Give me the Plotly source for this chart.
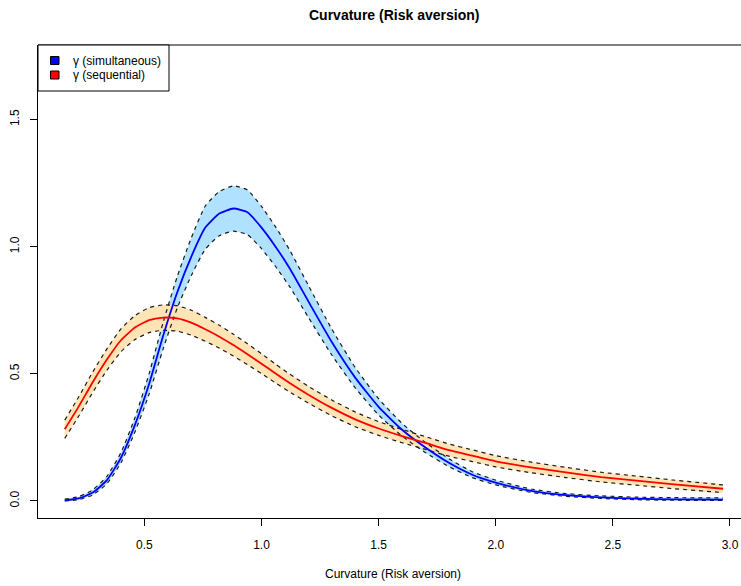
import plotly.graph_objects as go

# ---- data ----
x_grid = [0.16, 0.22, 0.28, 0.34, 0.40, 0.46, 0.52, 0.58, 0.64, 0.70, 0.76, 0.82,
          0.88, 0.94, 1.00, 1.06, 1.12, 1.20, 1.30, 1.40, 1.50, 1.60, 1.70, 1.80,
          1.90, 2.00, 2.15, 2.30, 2.45, 2.60, 2.75, 2.97]

sim_mean = [0.002, 0.010, 0.033, 0.082, 0.170, 0.300, 0.460, 0.650, 0.820, 0.960, 1.075, 1.130,
            1.150, 1.135, 1.075, 1.000, 0.915, 0.785, 0.625, 0.485, 0.370, 0.280, 0.210, 0.150,
            0.103, 0.072, 0.040, 0.023, 0.014, 0.009, 0.006, 0.005]
sim_lower = [0.000, 0.005, 0.024, 0.068, 0.150, 0.272, 0.420, 0.598, 0.758, 0.886, 0.990, 1.043,
             1.061, 1.047, 0.992, 0.922, 0.843, 0.722, 0.574, 0.445, 0.338, 0.255, 0.190, 0.135,
             0.092, 0.063, 0.034, 0.018, 0.010, 0.005, 0.003, 0.002]
sim_upper = [0.007, 0.017, 0.044, 0.097, 0.190, 0.328, 0.500, 0.702, 0.882, 1.034, 1.160, 1.217,
             1.239, 1.223, 1.158, 1.078, 0.987, 0.848, 0.676, 0.525, 0.402, 0.305, 0.230, 0.166,
             0.115, 0.082, 0.047, 0.029, 0.020, 0.015, 0.013, 0.012]

seq_mean = [0.282, 0.372, 0.468, 0.556, 0.632, 0.682, 0.711, 0.721, 0.718, 0.701, 0.675, 0.646,
            0.613, 0.577, 0.540, 0.501, 0.464, 0.418, 0.366, 0.321, 0.285, 0.255, 0.228, 0.200,
            0.178, 0.156, 0.132, 0.112, 0.094, 0.080, 0.066, 0.048]
seq_lower = [0.246, 0.334, 0.428, 0.514, 0.587, 0.635, 0.662, 0.671, 0.668, 0.652, 0.628, 0.601,
             0.570, 0.536, 0.501, 0.464, 0.429, 0.385, 0.335, 0.292, 0.258, 0.229, 0.203, 0.176,
             0.155, 0.134, 0.111, 0.092, 0.075, 0.062, 0.049, 0.033]
seq_upper = [0.318, 0.410, 0.508, 0.598, 0.677, 0.729, 0.760, 0.771, 0.768, 0.750, 0.722, 0.691,
             0.656, 0.618, 0.579, 0.538, 0.499, 0.451, 0.397, 0.350, 0.312, 0.281, 0.253, 0.224,
             0.201, 0.178, 0.153, 0.132, 0.113, 0.098, 0.083, 0.063]

x_ticks = [0.5, 1.0, 1.5, 2.0, 2.5, 3.0]
y_ticks = [0.0, 0.5, 1.0, 1.5]
legend_labels = ["γ (simultaneous)", "γ (sequential)"]
title_text = "Curvature (Risk aversion)"
xlabel_text = "Curvature (Risk aversion)"

# ---- styling ----
FONT = "Liberation Sans, Arial, Helvetica, sans-serif"
W, H = 741, 586
ML, MR, MT = 38, 0, 45
MB = H - 518
PW, PH = W - ML - MR, H - MT - MB


def px_to_paper(px, py):
    return (px - ML) / PW, (H - MB - py) / PH


fig = go.Figure()


def band(lower, upper, color):
    fig.add_trace(go.Scatter(
        x=x_grid + x_grid[::-1], y=upper + lower[::-1],
        fill="toself", fillcolor=color, mode="lines",
        line=dict(width=0, color=color, shape="spline", smoothing=0.5),
        hoverinfo="skip", showlegend=False))


def dashed(y):
    fig.add_trace(go.Scatter(
        x=x_grid, y=y, mode="lines",
        line=dict(color="#1a1a1a", width=1.2, dash="4px,4px", shape="spline", smoothing=0.5),
        hoverinfo="skip", showlegend=False))


def mean_line(y, color):
    fig.add_trace(go.Scatter(
        x=x_grid, y=y, mode="lines",
        line=dict(color=color, width=1.8, shape="spline", smoothing=0.5),
        showlegend=False))


band(sim_lower, sim_upper, "#B0E2FF")
band(seq_lower, seq_upper, "#FFE4B5")
dashed(sim_lower)
dashed(sim_upper)
dashed(seq_lower)
dashed(seq_upper)
mean_line(sim_mean, "#0000FF")
mean_line(seq_mean, "#FF0000")

axis_common = dict(showgrid=False, zeroline=False, showline=True, linecolor="black",
                   linewidth=1, ticks="outside", ticklen=7, tickcolor="black", tickwidth=1,
                   tickfont=dict(family=FONT, size=12, color="black"))

fig.update_xaxes(range=[0.0458, 3.047], tickvals=x_ticks,
                 ticktext=[f"{v:.1f}" for v in x_ticks], ticklabelstandoff=9, **axis_common)
fig.update_yaxes(range=[-0.067, 1.793], tickvals=y_ticks,
                 ticktext=[f"{v:.1f}" for v in y_ticks], tickangle=-90,
                 ticklabelstandoff=6, **axis_common)

shapes = []
shapes.append(dict(type="line", xref="paper", yref="paper", x0=0, x1=1, y0=1, y1=1,
                   line=dict(color="black", width=1)))
bx0, by0 = px_to_paper(38, 91)
bx1, by1 = px_to_paper(169, 45)
shapes.append(dict(type="rect", xref="paper", yref="paper", x0=bx0, x1=bx1, y0=by0, y1=by1,
                   line=dict(color="black", width=1), fillcolor="white"))
annotations = []
for i, (lab, col) in enumerate(zip(legend_labels, ["#0000FF", "#FF0000"])):
    cy = 60.5 + i * 14.5
    sx0, sy0 = px_to_paper(50.5, cy + 4)
    sx1, sy1 = px_to_paper(59, cy - 4)
    shapes.append(dict(type="rect", xref="paper", yref="paper", x0=sx0, x1=sx1, y0=sy0, y1=sy1,
                       line=dict(color="black", width=1), fillcolor=col))
    tx, ty = px_to_paper(71, cy)
    annotations.append(dict(xref="paper", yref="paper", x=tx, y=ty, text=lab, showarrow=False,
                            xanchor="left", yanchor="middle",
                            font=dict(family=FONT, size=12, color="black")))

tx, ty = px_to_paper(394, 15)
annotations.append(dict(xref="paper", yref="paper", x=tx, y=ty,
                        text="<b>" + title_text + "</b>", showarrow=False,
                        xanchor="center", yanchor="middle",
                        font=dict(family=FONT, size=14, color="black")))
tx, ty = px_to_paper(393, 574)
annotations.append(dict(xref="paper", yref="paper", x=tx, y=ty,
                        text=xlabel_text, showarrow=False, xanchor="center", yanchor="middle",
                        font=dict(family=FONT, size=12, color="black")))

fig.update_layout(width=W, height=H, margin=dict(l=ML, r=MR, t=MT, b=MB, autoexpand=False),
                  paper_bgcolor="white", plot_bgcolor="white", shapes=shapes,
                  annotations=annotations, showlegend=False,
                  font=dict(family=FONT, size=12, color="black"))

fig.write_html("out.html",
               config={"displayModeBar": False},
               post_script="document.body.style.margin='0';"
                           "document.documentElement.style.overflow='hidden';")
